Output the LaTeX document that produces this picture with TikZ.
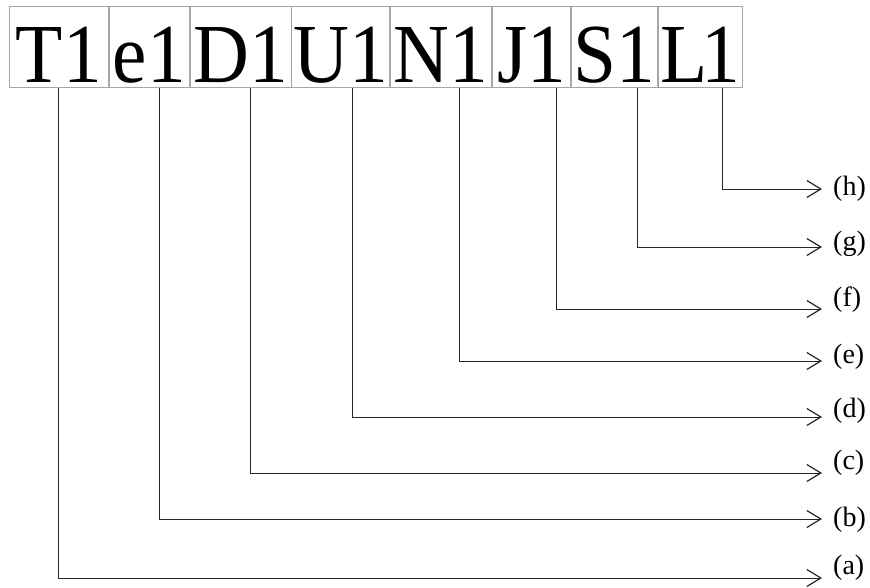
\documentclass[tikz,border=0pt]{standalone}
\usepackage{fontspec}
\setmainfont{Liberation Serif}
\newfontfamily\bigserif[FakeStretch=0.92]{Liberation Serif}
\usetikzlibrary{arrows.meta, positioning}

\begin{document}
\begin{tikzpicture}[x=1pt, y=-1pt,
    letter/.style={draw=gray!70, line width=0.8pt, inner sep=0pt, minimum width=#1,
        text height=76pt, text depth=5pt, font=\bigserif\fontsize{84}{84}\selectfont},
    link/.style={draw=black!85, line width=1pt, -{Straight Barb[length=14pt, width=17pt, line width=1.2pt]}},
    tag/.style={anchor=west, inner sep=0pt, font=\fontsize{28}{28}\selectfont}]
    \useasboundingbox (0,0) rectangle (870,587);

    % boxes
    \node[letter=99pt, anchor=south west] (t1) at (9,88) {T1};
    \node[letter=80pt, right=0pt of t1] (e1) {e1};
    \node[letter=101pt, right=0pt of e1] (d1) {D1};
    \node[letter=98pt, right=0pt of d1] (u1) {U1};
    \node[letter=101pt, right=0pt of u1] (n1) {N1};
    \node[letter=78pt, right=0pt of n1] (j1) {J1};
    \node[letter=86pt, right=0pt of j1] (s1) {S1};
    \node[letter=84pt, right=0pt of s1] (l1) {L\kern-6pt 1};

    % arrow ends
    \coordinate (ta) at (822,578);
    \coordinate (tb) at (822,519);
    \coordinate (tc) at (822,473);
    \coordinate (td) at (822,417);
    \coordinate (te) at (822,361);
    \coordinate (tf) at (822,309);
    \coordinate (tg) at (822,247);
    \coordinate (th) at (822,189);

    % labels
    \node[tag] (la) at (833,568) {(a)};
    \node[tag] (lb) at (833,520) {(b)};
    \node[tag] (lc) at (833,463) {(c)};
    \node[tag] (ld) at (833,411) {(d)};
    \node[tag] (le) at (833,357) {(e)};
    \node[tag] (lf) at (833,300) {(f)};
    \node[tag] (lg) at (833,244) {(g)};
    \node[tag] (lh) at (833,189) {(h)};

    % connectors
    \draw[link] ([xshift=-0.5pt]t1.south) |- (ta);
    \draw[link] ([xshift=10pt]e1.south) |- (tb);
    \draw[link] ([xshift=9.5pt]d1.south) |- (tc);
    \draw[link] ([xshift=12pt]u1.south) |- (td);
    \draw[link] ([xshift=18.5pt]n1.south) |- (te);
    \draw[link] ([xshift=25pt]j1.south) |- (tf);
    \draw[link] ([xshift=23pt]s1.south) |- (tg);
    \draw[link] ([xshift=22pt]l1.south) |- (th);
\end{tikzpicture}
\end{document}
